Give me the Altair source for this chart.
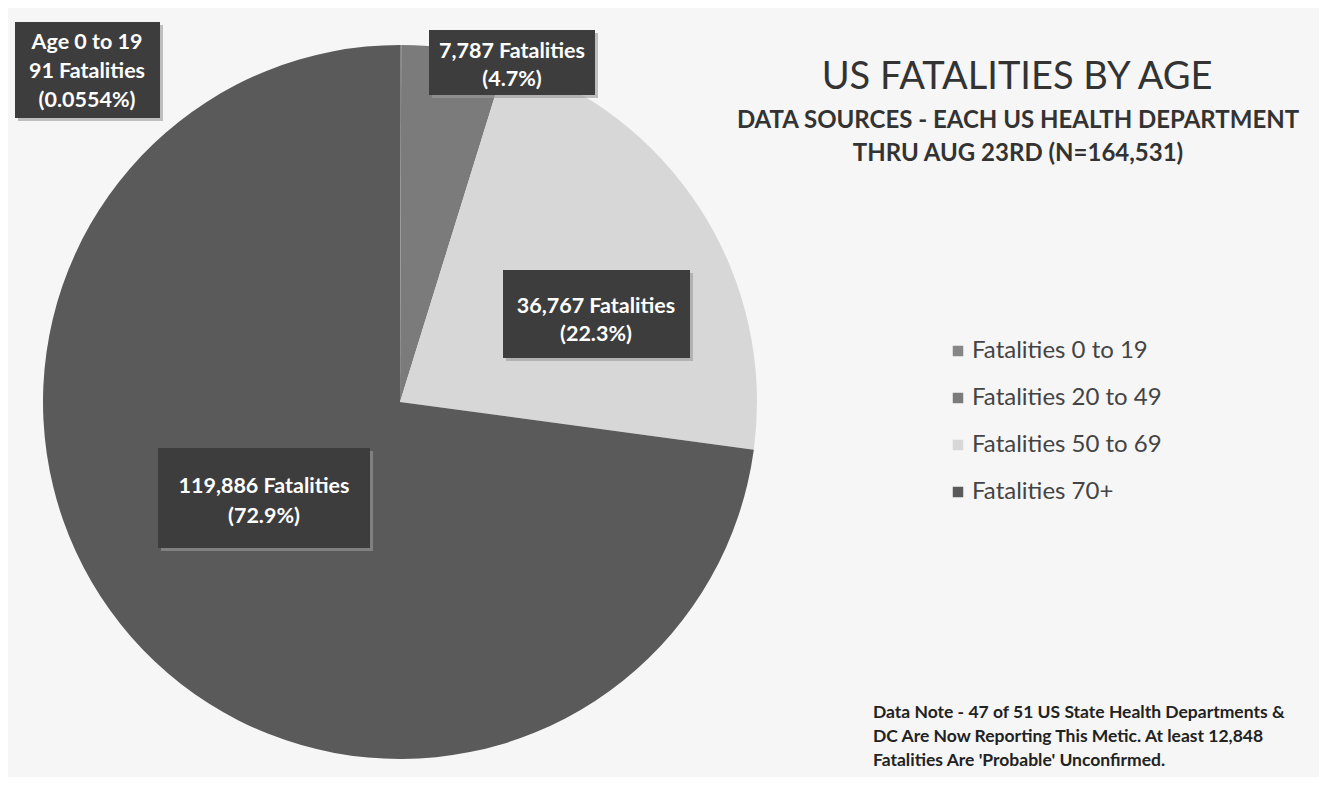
import altair as alt
import pandas as pd

# ---- data ----
groups = ["Fatalities 0 to 19", "Fatalities 20 to 49", "Fatalities 50 to 69", "Fatalities 70+"]
fatalities = [91, 7787, 36767, 119886]
pct_labels = ["0.0554%", "4.7%", "22.3%", "72.9%"]
slice_colors = ["#868686", "#7b7b7b", "#d7d7d7", "#5a5a5a"]

title_text = "US FATALITIES BY AGE"
subtitle_lines = ["DATA SOURCES - EACH US HEALTH DEPARTMENT", "THRU AUG 23RD (N=164,531)"]
note_lines = ["Data Note - 47 of 51 US State Health Departments &",
              "DC Are Now Reporting This Metic. At least 12,848",
              "Fatalities Are 'Probable' Unconfirmed."]

df = pd.DataFrame({"group": groups, "value": fatalities, "order": list(range(len(groups)))})

label_texts = [
    "Age 0 to 19\n{:,} Fatalities\n({})".format(fatalities[0], pct_labels[0]),
    "{:,} Fatalities\n({})".format(fatalities[1], pct_labels[1]),
    "{:,} Fatalities\n({})".format(fatalities[2], pct_labels[2]),
    "{:,} Fatalities\n({})".format(fatalities[3], pct_labels[3]),
]

FONT = "Lato"
W, H = 1311, 769

pie = alt.Chart(df).mark_arc(stroke=None).encode(
    theta=alt.Theta("value:Q", stack=True),
    order=alt.Order("order:Q"),
    color=alt.Color("group:N", sort=groups,
                    scale=alt.Scale(domain=groups, range=slice_colors),
                    legend=alt.Legend(orient="none", legendX=938, legendY=331, title=None,
                                      labelFontSize=24, labelFont=FONT, labelColor="#444444",
                                      symbolType="square", symbolSize=110, symbolStrokeWidth=0,
                                      rowPadding=23, labelLimit=400, labelOffset=2)),
    x=alt.value(392), y=alt.value(394), radius=alt.value(357),
)

layers = [pie]

# label boxes (screen positions minus 8px page margin)
boxes = [
    (7, 152, 14, 110, 79, [35, 64, 93]),
    (421, 587, 22, 87, 504, [44, 72]),
    (495, 682, 262, 350, 588, [299, 327]),
    (150, 362, 440, 540, 256, [479, 509]),
]
one = pd.DataFrame({"k": [0]})
for i, (x1, x2, y1, y2, cx, ys) in enumerate(boxes):
    layers.append(alt.Chart(one).mark_rect(color="#9a9a9a", opacity=0.6).encode(
        x=alt.value(x1 + 3), x2=alt.value(x2 + 3), y=alt.value(y1 + 3), y2=alt.value(y2 + 3)))
    layers.append(alt.Chart(one).mark_rect(color="#3d3d3d").encode(
        x=alt.value(x1), x2=alt.value(x2), y=alt.value(y1), y2=alt.value(y2)))
    for j, line in enumerate(label_texts[i].split("\n")):
        layers.append(alt.Chart(pd.DataFrame({"t": [line]})).mark_text(
            color="white", fontSize=21.5, fontWeight="bold", font=FONT,
            align="center", baseline="middle").encode(
            x=alt.value(cx), y=alt.value(ys[j]), text="t:N"))

# title
layers.append(alt.Chart(pd.DataFrame({"t": [title_text]})).mark_text(
    fontSize=38, font=FONT, color="#333333", align="center", baseline="middle").encode(
    x=alt.value(1009), y=alt.value(70), text="t:N"))
for j, line in enumerate(subtitle_lines):
    layers.append(alt.Chart(pd.DataFrame({"t": [line]})).mark_text(
        fontSize=24, font=FONT, fontWeight="bold", color="#333333", align="center",
        baseline="middle").encode(x=alt.value(1010), y=alt.value(113 + 33 * j), text="t:N"))

# data note
for j, line in enumerate(note_lines):
    layers.append(alt.Chart(pd.DataFrame({"t": [line]})).mark_text(
        fontSize=17.5, font=FONT, fontWeight="bold", color="#222222", align="left",
        baseline="middle").encode(x=alt.value(865), y=alt.value(705 + 24 * j), text="t:N"))

chart = alt.layer(*layers).properties(
    width=W, height=H, padding=0, autosize=alt.AutoSizeParams(type="none"),
    background="#f6f6f6"
).configure_view(stroke=None)

chart.save("out.html", embed_options={"renderer": "svg", "actions": False})
